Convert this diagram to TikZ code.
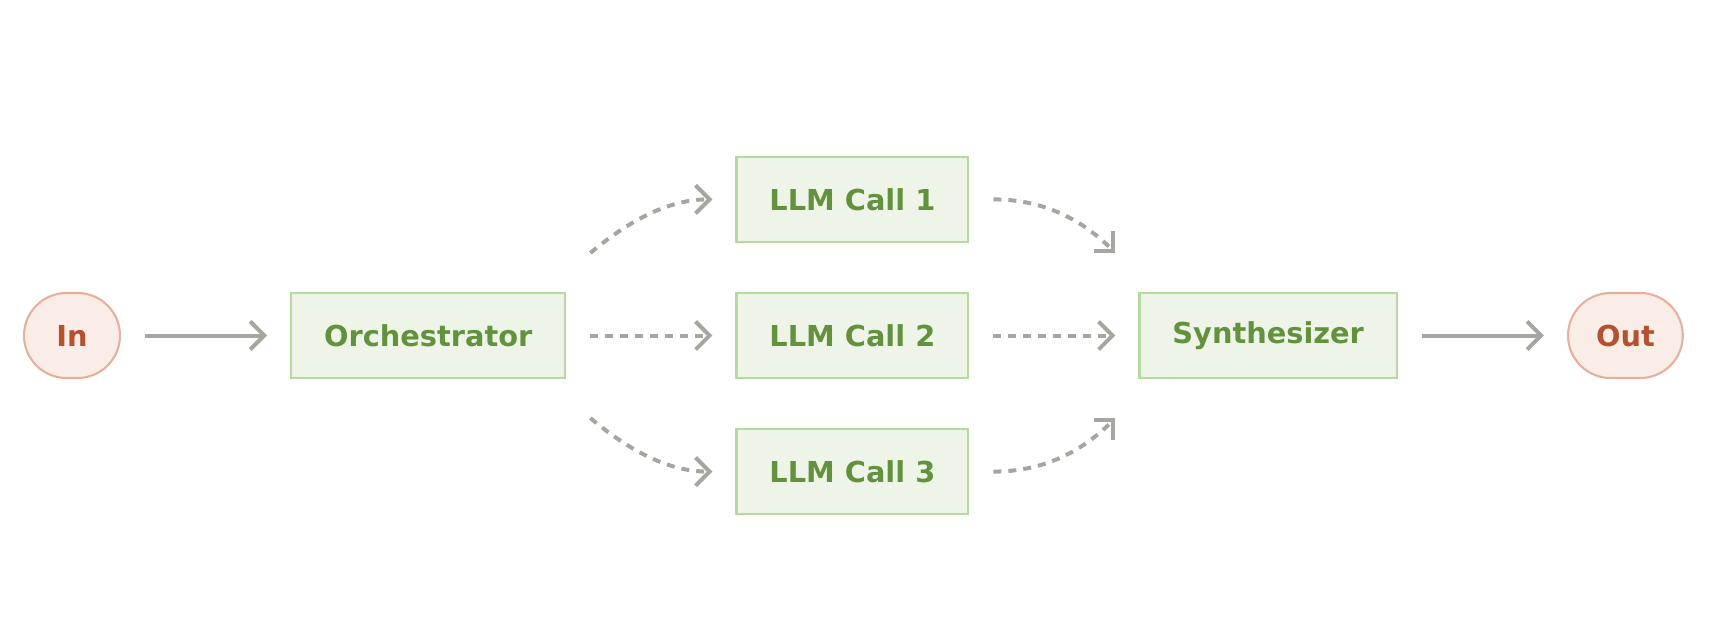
\documentclass[tikz,border=0pt]{standalone}
\usepackage{fontspec}
\setmainfont{DejaVu Sans}
\usetikzlibrary{positioning,chains,arrows.meta}
\definecolor{mygreen}{RGB}{98,146,62}
\definecolor{mygreenfill}{RGB}{238,245,232}
\definecolor{mygreenline}{RGB}{180,218,160}
\definecolor{myred}{RGB}{180,82,48}
\definecolor{myredfill}{RGB}{250,237,232}
\definecolor{myredline}{RGB}{230,176,158}
\definecolor{mygray}{RGB}{166,166,160}

\begin{document}
\begin{tikzpicture}[
  callnode/.style={draw=mygreenline,fill=mygreenfill,text=mygreen,line width=1.2pt,
    minimum height=1.7cm,inner xsep=0.66cm,font=\fontsize{16.4}{20}\selectfont\bfseries},
  endnode/.style={draw=myredline,fill=myredfill,text=myred,line width=1.2pt,
    rounded corners=0.85cm,minimum height=1.7cm,minimum width=1.92cm,inner xsep=0.56cm,
    font=\fontsize{16.4}{20}\selectfont\bfseries},
  flow/.style={mygray,line width=0.08cm,-{Straight Barb[length=0.28cm,width=0.56cm]},
    shorten >=0.46cm,shorten <=0.48cm},
  dashflow/.style={flow,dash pattern=on 0.16cm off 0.14cm}
]
\useasboundingbox (0,0) rectangle (34.28,-12.4);

% the main line
\begin{scope}[start chain=going right,node distance=3.38cm]
  \node[endnode,on chain] (in) at (1.44,-6.71) {In};
  \node[callnode,on chain] (orch) {Orchestrator};
  \node[callnode,on chain] (call2) {LLM Call 2};
  \node[callnode,on chain] (synth) {Synthesizer};
  \node[endnode,on chain] (out) {Out};
\end{scope}

% the other calls
\node[callnode,above=0.98cm of call2] (call1) {LLM Call 1};
\node[callnode,below=0.98cm of call2] (call3) {LLM Call 3};

% where the curves start and end
\coordinate[above right=0.78cm and 0.48cm of orch.north east] (fork1);
\coordinate[below right=0.78cm and 0.48cm of orch.south east] (fork3);
\coordinate[above left=0.78cm and 0.46cm of synth.north west] (join1);
\coordinate[below left=0.78cm and 0.46cm of synth.south west] (join3);

% the edges
\draw[flow] (in) -- (orch);
\draw[dashflow] (orch) -- (call2);
\draw[dashflow] (call2) -- (synth);
\draw[flow] (synth) -- (out);
\draw[dashflow,shorten <=0pt] (fork1) to[out=40,in=180] (call1);
\draw[dashflow,shorten <=0pt] (fork3) to[out=-40,in=180] (call3);
\draw[dashflow,shorten >=0pt] (call1) to[out=0,in=135] (join1);
\draw[dashflow,shorten >=0pt] (call3) to[out=0,in=-135] (join3);
\end{tikzpicture}
\end{document}
